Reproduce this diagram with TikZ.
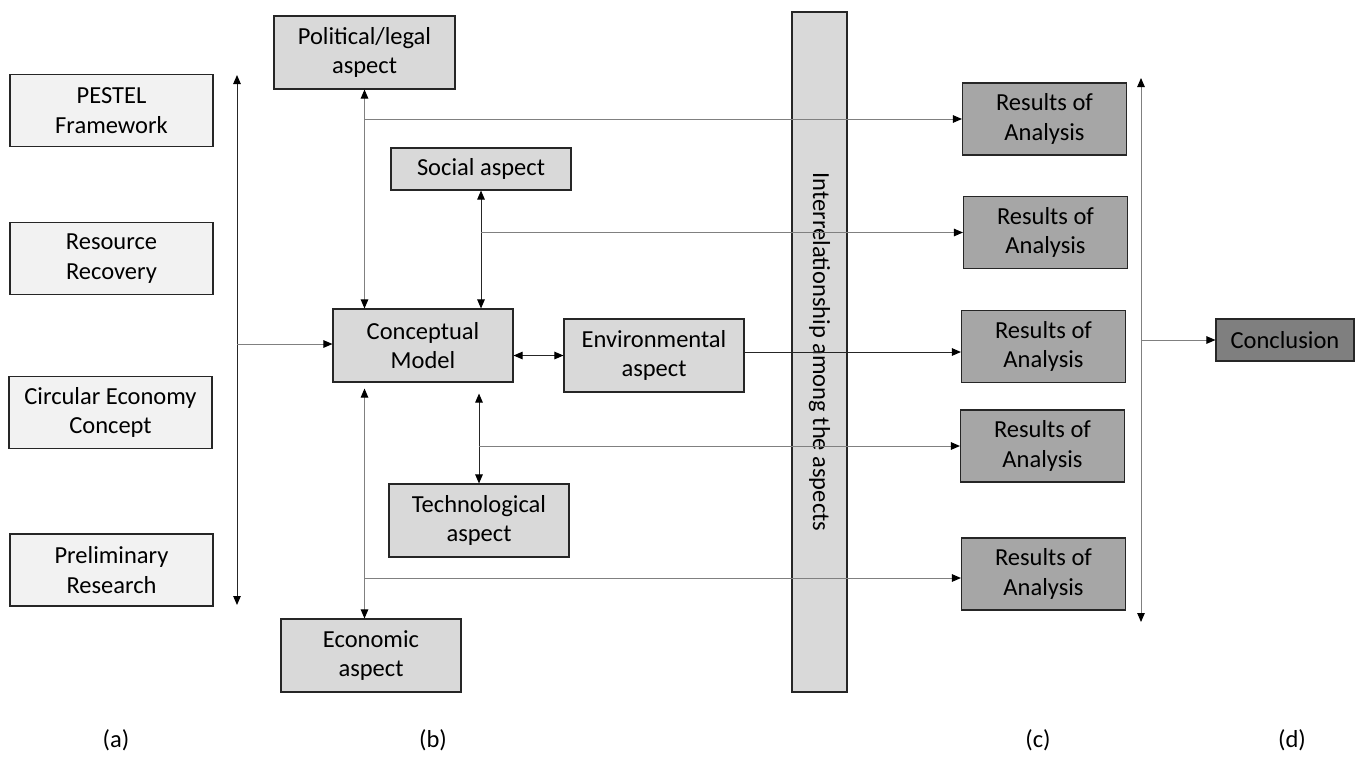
\documentclass[tikz,border=0pt]{standalone}
\usepackage{fontspec}
\setmainfont{Carlito}
\usetikzlibrary{arrows.meta}
\definecolor{srcfill}{HTML}{F2F2F2}
\definecolor{aspfill}{HTML}{D9D9D9}
\definecolor{resfill}{HTML}{A6A6A6}
\definecolor{conffill}{HTML}{7F7F7F}
\definecolor{boxline}{HTML}{262626}
\begin{document}
\begin{tikzpicture}[x=1pt,y=-1pt,
  >={Triangle[length=9pt,width=7.5pt,color=black]},
  txt/.style={font=\fontsize{24.5}{29.5}\selectfont, text=black},
  box/.style={txt, draw=boxline, line width=1.1pt, align=center, inner sep=0pt},
  srcbox/.style={box, fill=srcfill, minimum width=203pt, minimum height=72pt},
  aspbox/.style={box, fill=aspfill, minimum width=180pt, minimum height=73pt},
  resbox/.style={box, fill=resfill, minimum width=164pt, minimum height=72pt},
  darkline/.style={draw=black!85, line width=1pt},
  greyline/.style={draw=black!50, line width=1pt}
]
\useasboundingbox (0,0) rectangle (1362,756);

% (a) inputs
\node[srcbox] (pestel) at (111.5,110.5) {PESTEL\\Framework};
\node[srcbox] (resrec) at (111.5,258.5) {Resource\\Recovery};
\node[srcbox] (circ)   at (110.5,412.5) {Circular Economy\\Concept};
\node[srcbox] (prelim) at (111.5,570) {Preliminary\\Research};

% (b) conceptual model and its aspects
\node[aspbox, minimum width=181pt] (pol) at (364.5,52.5) {Political/legal\\aspect};
\node[aspbox, minimum height=42pt] (soc) at (481,169) {Social aspect};
\node[aspbox] (cm)   at (423,345.5) {Conceptual\\Model};
\node[aspbox] (env)  at (654,355.5) {Environmental\\aspect};
\node[aspbox] (tech) at (479,520.5) {Technological\\aspect};
\node[aspbox] (eco)  at (371,655.5) {Economic\\aspect};

% interrelationship bar
\node[box, fill=aspfill, minimum width=55pt, minimum height=680pt] (inter) at (819.5,352) {};
\node[txt, rotate=-90] (intertxt) at (inter.center) {Interrelationship among the aspects};

% (c) results
\node[resbox] (r1) at (1044.5,119) {Results of\\Analysis};
\node[resbox] (r2) at (1045.5,232.5) {Results of\\Analysis};
\node[resbox] (r3) at (1043.5,346.5) {Results of\\Analysis};
\node[resbox] (r4) at (1042.5,446) {Results of\\Analysis};
\node[resbox] (r5) at (1043.5,574) {Results of\\Analysis};

% (d) conclusion
\node[box, fill=conffill, minimum width=138pt, minimum height=42pt] (concl) at (1285,340) {Conclusion};

% column labels
\node[txt] (la) at (116,740) {(a)};
\node[txt] (lb) at (433,740) {(b)};
\node[txt] (lc) at (1038,740) {(c)};
\node[txt] (ld) at (1292,740) {(d)};

% collecting arrow of the inputs
\coordinate (atop) at (237,75);
\coordinate (abot) at (237,605);
\coordinate (amid) at (237,344);
\draw[darkline, <->] (atop) -- (abot);
\draw[greyline, ->] (amid) -- (cm.west |- amid);

% aspects linked with the conceptual model
\draw[greyline, <->] (pol.south) -- (pol.south |- cm.north);
\draw[darkline, <->] (soc.south) -- (soc.south |- cm.north);
\draw[darkline, <->] (cm.east |- env.west) -- (env.west);
\coordinate (techtop) at ([yshift=-11pt]cm.south -| tech.north);
\draw[darkline, <->] (techtop) -- (tech.north);
\coordinate (ecotop) at ([yshift=-6pt]cm.south -| pol.south);
\draw[greyline, <->] (ecotop) -- (ecotop |- eco.north);

% aspects to their results
\coordinate (envout) at ([yshift=3.5pt]env.east);
\coordinate (ecoout) at (ecotop |- 0,578);
\draw[greyline, ->] (pol.south |- r1.west) -- (r1.west);
\draw[greyline, ->] (soc.south |- r2.west) -- (r2.west);
\draw[darkline, ->] (envout) -- (envout -| r3.west);
\draw[greyline, ->] (tech.north |- r4.west) -- (r4.west);
\draw[greyline, ->] (ecoout) -- (ecoout -| r5.west);

% results gathered into the conclusion
\coordinate (dtop) at (1141,78);
\coordinate (dbot) at (1141,622);
\draw[greyline, <->] (dtop) -- (dbot);
\draw[greyline, ->] (dtop |- concl.west) -- (concl.west);
\end{tikzpicture}
\end{document}
